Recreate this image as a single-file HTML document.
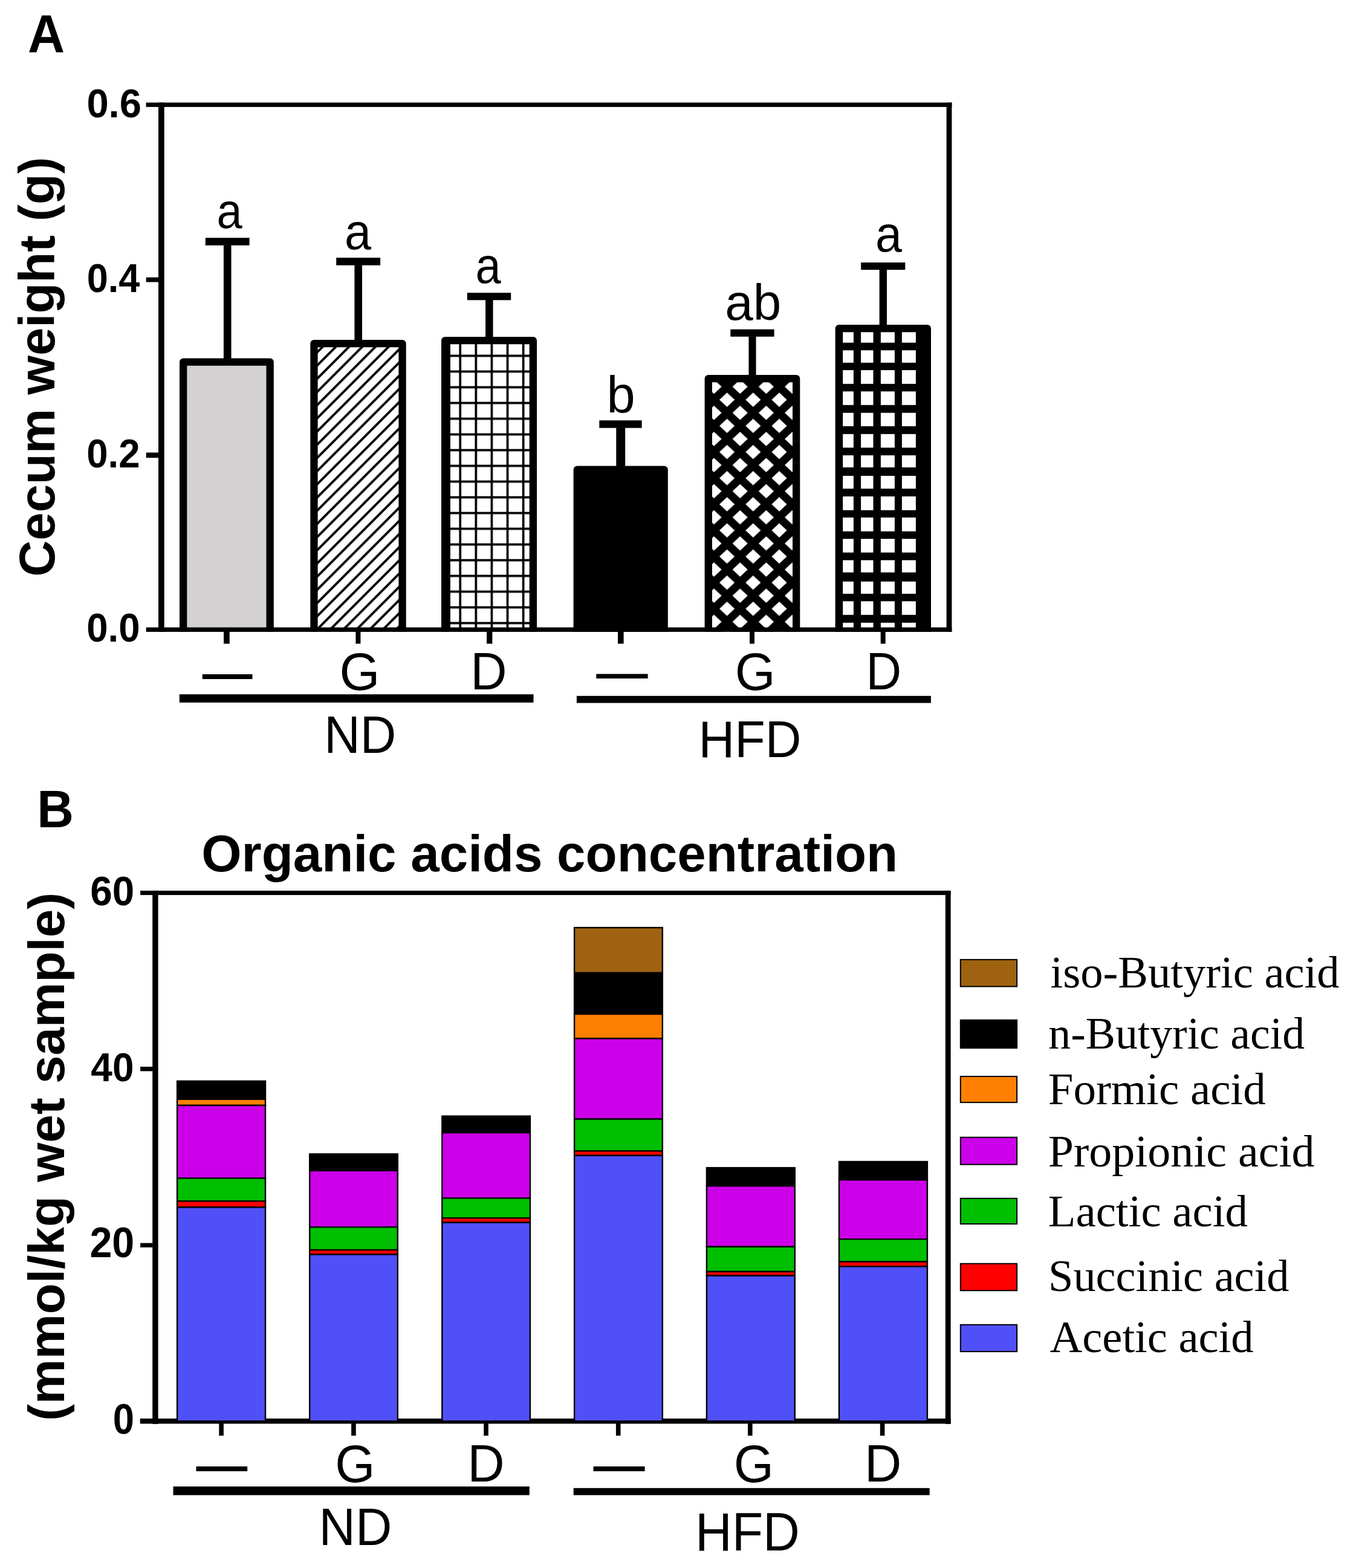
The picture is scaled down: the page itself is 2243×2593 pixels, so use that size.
<!DOCTYPE html>
<html><head><meta charset="utf-8"><title>Cecum weight and organic acids</title>
<style>html,body{margin:0;padding:0;background:#fff;}svg{display:block;}</style></head>
<body>
<svg width="2243" height="2593" viewBox="0 0 2243 2593">
<rect width="2243" height="2593" fill="#fff"/>
<text transform="translate(45.98 86.8) scale(0.9563 1)" font-family='"Liberation Sans", Arial, sans-serif' font-weight="bold" font-size="88.52">A</text>
<text transform="translate(90.35 953.82) rotate(-90) scale(1.0012 1)" font-family='"Liberation Sans", Arial, sans-serif' font-weight="bold" font-size="83.24">Cecum weight (g)</text>
<text transform="translate(143.39 194.02) scale(0.9649 1)" font-family='"Liberation Sans", Arial, sans-serif' font-weight="bold" font-size="67.51">0.6</text>
<text transform="translate(143.68 483.03) scale(0.9358 1)" font-family='"Liberation Sans", Arial, sans-serif' font-weight="bold" font-size="67.37">0.4</text>
<text transform="translate(143.26 772.53) scale(0.9467 1)" font-family='"Liberation Sans", Arial, sans-serif' font-weight="bold" font-size="67.09">0.2</text>
<text transform="translate(143.26 1060.94) scale(0.9595 1)" font-family='"Liberation Sans", Arial, sans-serif' font-weight="bold" font-size="66.24">0.0</text>
<defs>
<pattern id="hatch" patternUnits="userSpaceOnUse" x="16.18" y="0" width="21.82" height="21.82">
 <rect width="21.82" height="21.82" fill="#fff"/>
 <path d="M-10.91,10.91 L10.91,-10.91 M0,21.82 L21.82,0 M10.91,32.730000000000004 L32.730000000000004,10.91" stroke="#000" stroke-width="3.9"/>
</pattern>
<pattern id="fgrid" patternUnits="userSpaceOnUse" x="759.35" y="586.55" width="26.1" height="26">
 <rect width="26.1" height="26" fill="#fff"/>
 <rect width="3.7" height="26" fill="#000"/>
 <rect width="26.1" height="3.7" fill="#000"/>
</pattern>
<pattern id="diam" patternUnits="userSpaceOnUse" x="1224.2" y="682.7" width="43.2" height="43.2">
 <rect width="43.2" height="43.2" fill="#000"/>
 <path fill="#fff" d="M0.00,-11.80 L12.60,0.00 L0.00,11.80 L-12.60,0.00Z M43.20,-11.80 L55.80,0.00 L43.20,11.80 L30.60,0.00Z M0.00,31.40 L12.60,43.20 L0.00,55.00 L-12.60,43.20Z M43.20,31.40 L55.80,43.20 L43.20,55.00 L30.60,43.20Z M21.60,9.80 L34.20,21.60 L21.60,33.40 L9.00,21.60Z"/>
</pattern>
<pattern id="tgrid" patternUnits="userSpaceOnUse" x="1492.2" y="717.9" width="35.2" height="35.2">
 <rect width="35.2" height="35.2" fill="#000"/>
 <rect width="22.7" height="22.7" fill="#fff"/>
</pattern>
</defs>
<path d="M303.15,1044.9 V598.55 H446.65 V1044.9" fill="#d5d2d4" stroke="#000" stroke-width="12.3" stroke-linejoin="round"/>
<path d="M519.45,1044.9 V568.15 H665.55 V1044.9" fill="url(#hatch)" stroke="#000" stroke-width="12.3" stroke-linejoin="round"/>
<path d="M736.15,1044.9 V563.15 H881.85 V1044.9" fill="url(#fgrid)" stroke="#000" stroke-width="12.3" stroke-linejoin="round"/>
<path d="M954.75,1044.9 V776.65 H1098.65 V1044.9" fill="#000" stroke="#000" stroke-width="12.3" stroke-linejoin="round"/>
<path d="M1171.75,1044.9 V626.15 H1317.15 V1044.9" fill="url(#diam)" stroke="#000" stroke-width="12.3" stroke-linejoin="round"/>
<path d="M1387.75,1044.9 V543.15 H1533.85 V1044.9" fill="#000" stroke="#000" stroke-width="12.3" stroke-linejoin="round"/>
<rect x="730" y="563" width="14.9" height="478" fill="#000"/>
<g fill="#fff">
<rect x="1394.2" y="549.3" width="17.7" height="17.4"/>
<rect x="1424.1" y="549.3" width="20.4" height="17.4"/>
<rect x="1456.9" y="549.3" width="23" height="17.4"/>
<rect x="1491.9" y="549.3" width="23" height="17.4"/>
<rect x="1394.2" y="579.3" width="17.7" height="20.5"/>
<rect x="1424.1" y="579.3" width="20.4" height="20.5"/>
<rect x="1456.9" y="579.3" width="23" height="20.5"/>
<rect x="1491.9" y="579.3" width="23" height="20.5"/>
<rect x="1394.2" y="612.1" width="17.7" height="22.7"/>
<rect x="1424.1" y="612.1" width="20.4" height="22.7"/>
<rect x="1456.9" y="612.1" width="23" height="22.7"/>
<rect x="1491.9" y="612.1" width="23" height="22.7"/>
<rect x="1394.2" y="647.3" width="17.7" height="22.5"/>
<rect x="1424.1" y="647.3" width="20.4" height="22.5"/>
<rect x="1456.9" y="647.3" width="23" height="22.5"/>
<rect x="1491.9" y="647.3" width="23" height="22.5"/>
<rect x="1394.2" y="682.7" width="17.7" height="22.1"/>
<rect x="1424.1" y="682.7" width="20.4" height="22.1"/>
<rect x="1456.9" y="682.7" width="23" height="22.1"/>
<rect x="1491.9" y="682.7" width="23" height="22.1"/>
<rect x="1394.2" y="717.8" width="17.7" height="22.5"/>
<rect x="1424.1" y="717.8" width="20.4" height="22.5"/>
<rect x="1456.9" y="717.8" width="23" height="22.5"/>
<rect x="1491.9" y="717.8" width="23" height="22.5"/>
<rect x="1394.2" y="753" width="17.7" height="19.9"/>
<rect x="1424.1" y="753" width="20.4" height="19.9"/>
<rect x="1456.9" y="753" width="23" height="19.9"/>
<rect x="1491.9" y="753" width="23" height="19.9"/>
<rect x="1394.2" y="786.9" width="17.7" height="21.2"/>
<rect x="1424.1" y="786.9" width="20.4" height="21.2"/>
<rect x="1456.9" y="786.9" width="23" height="21.2"/>
<rect x="1491.9" y="786.9" width="23" height="21.2"/>
<rect x="1394.2" y="820.9" width="17.7" height="22.8"/>
<rect x="1424.1" y="820.9" width="20.4" height="22.8"/>
<rect x="1456.9" y="820.9" width="23" height="22.8"/>
<rect x="1491.9" y="820.9" width="23" height="22.8"/>
<rect x="1394.2" y="855.8" width="17.7" height="22.9"/>
<rect x="1424.1" y="855.8" width="20.4" height="22.9"/>
<rect x="1456.9" y="855.8" width="23" height="22.9"/>
<rect x="1491.9" y="855.8" width="23" height="22.9"/>
<rect x="1394.2" y="891.1" width="17.7" height="22.6"/>
<rect x="1424.1" y="891.1" width="20.4" height="22.6"/>
<rect x="1456.9" y="891.1" width="23" height="22.6"/>
<rect x="1491.9" y="891.1" width="23" height="22.6"/>
<rect x="1394.2" y="926.4" width="17.7" height="20.2"/>
<rect x="1424.1" y="926.4" width="20.4" height="20.2"/>
<rect x="1456.9" y="926.4" width="23" height="20.2"/>
<rect x="1491.9" y="926.4" width="23" height="20.2"/>
<rect x="1394.2" y="961.7" width="17.7" height="20.2"/>
<rect x="1424.1" y="961.7" width="20.4" height="20.2"/>
<rect x="1456.9" y="961.7" width="23" height="20.2"/>
<rect x="1491.9" y="961.7" width="23" height="20.2"/>
<rect x="1394.2" y="994.3" width="17.7" height="22.5"/>
<rect x="1424.1" y="994.3" width="20.4" height="22.5"/>
<rect x="1456.9" y="994.3" width="23" height="22.5"/>
<rect x="1491.9" y="994.3" width="23" height="22.5"/>
<rect x="1394.2" y="1029.8" width="17.7" height="11.2"/>
<rect x="1424.1" y="1029.8" width="20.4" height="11.2"/>
<rect x="1456.9" y="1029.8" width="23" height="11.2"/>
<rect x="1491.9" y="1029.8" width="23" height="11.2"/>
</g>
<g fill="#000">
<rect x="339.8" y="393.3" width="72.8" height="12.5"/>
<rect x="369.9" y="405.3" width="12.6" height="188.6"/>
<rect x="556.2" y="426.2" width="72.9" height="12.5"/>
<rect x="586.4" y="438.2" width="12.6" height="125.3"/>
<rect x="772.8" y="484.2" width="72.4" height="12.1"/>
<rect x="803.05" y="495.8" width="12.5" height="62.7"/>
<rect x="991.3" y="695.2" width="70.3" height="12.5"/>
<rect x="1019.25" y="707.2" width="14.9" height="64.8"/>
<rect x="1208.3" y="544.6" width="72.3" height="12.1"/>
<rect x="1238.45" y="556.2" width="12.1" height="65.3"/>
<rect x="1424.2" y="434.1" width="73.1" height="12.1"/>
<rect x="1454.65" y="445.7" width="12.3" height="92.8"/>
</g>
<g fill="#000">
<rect x="241.6" y="169.6" width="1332.8" height="7.3"/>
<rect x="262" y="169.6" width="9.7" height="875.3"/>
<rect x="1565.6" y="169.6" width="8.8" height="875.3"/>
<rect x="241.7" y="1037.5" width="1332.7" height="7.4"/>
<rect x="241.7" y="458.7" width="22" height="7.8"/>
<rect x="241.7" y="748.4" width="22" height="8.6"/>
<rect x="370.05" y="1043" width="9.7" height="21.5"/>
<rect x="588.4" y="1043" width="8" height="21.5"/>
<rect x="805.05" y="1043" width="9.3" height="21.5"/>
<rect x="1022" y="1043" width="9.6" height="21.5"/>
<rect x="1240" y="1043" width="8" height="21.5"/>
<rect x="1456.7" y="1043" width="8" height="21.5"/>
<rect x="296.8" y="1148.2" width="585.7" height="13.6"/>
<rect x="953.9" y="1150.8" width="586" height="11.7"/>
</g>
<text transform="translate(358.42 376.88) scale(0.9278 1)" font-family='"Liberation Sans", Arial, sans-serif' font-weight="normal" font-size="81.57">a</text>
<text transform="translate(569.97 412.08) scale(0.9600 1)" font-family='"Liberation Sans", Arial, sans-serif' font-weight="normal" font-size="82.48">a</text>
<text transform="translate(786.52 468.38) scale(0.9175 1)" font-family='"Liberation Sans", Arial, sans-serif' font-weight="normal" font-size="82.48">a</text>
<text transform="translate(1003.38 681.75) scale(0.9931 1)" font-family='"Liberation Sans", Arial, sans-serif' font-weight="normal" font-size="85.44">b</text>
<text transform="translate(1199.19 528.77) scale(1.0101 1)" font-family='"Liberation Sans", Arial, sans-serif' font-weight="normal" font-size="82.72">ab</text>
<text transform="translate(1448.08 415.68) scale(0.9576 1)" font-family='"Liberation Sans", Arial, sans-serif' font-weight="normal" font-size="82.48">a</text>
<text transform="translate(334.8 1149.7) scale(1 1.4601)" font-family='"Liberation Sans", Arial, sans-serif' font-size="82.8">—</text>
<text transform="translate(986.3 1146.7) scale(1 1.2933)" font-family='"Liberation Sans", Arial, sans-serif' font-size="85.4">—</text>
<text transform="translate(561.6 1141.42) scale(0.9763 1)" font-family='"Liberation Sans", Arial, sans-serif' font-weight="normal" font-size="87.99">G</text>
<text transform="translate(778.36 1140.2) scale(0.9617 1)" font-family='"Liberation Sans", Arial, sans-serif' font-weight="normal" font-size="86.77">D</text>
<text transform="translate(1215.8 1141.42) scale(0.9763 1)" font-family='"Liberation Sans", Arial, sans-serif' font-weight="normal" font-size="87.99">G</text>
<text transform="translate(1432.45 1140.2) scale(0.9344 1)" font-family='"Liberation Sans", Arial, sans-serif' font-weight="normal" font-size="86.77">D</text>
<text transform="translate(536.14 1245.4) scale(0.9498 1)" font-family='"Liberation Sans", Arial, sans-serif' font-weight="normal" font-size="86.77">ND</text>
<text transform="translate(1155.62 1252) scale(0.9654 1)" font-family='"Liberation Sans", Arial, sans-serif' font-weight="normal" font-size="85.61">HFD</text>
<text transform="translate(61.37 1368.4) scale(0.9741 1)" font-family='"Liberation Sans", Arial, sans-serif' font-weight="bold" font-size="86.34">B</text>
<text transform="translate(333.2 1441.43) scale(0.9955 1)" font-family='"Liberation Sans", Arial, sans-serif' font-weight="bold" font-size="85.7">Organic acids concentration</text>
<text transform="translate(105.77 2349.78) rotate(-90) scale(0.9948 1)" font-family='"Liberation Sans", Arial, sans-serif' font-weight="bold" font-size="84.1">(mmol/kg wet sample)</text>
<text transform="translate(149.37 1496.71) scale(0.9552 1)" font-family='"Liberation Sans", Arial, sans-serif' font-weight="bold" font-size="68.64">60</text>
<text transform="translate(150.34 1788.13) scale(0.9608 1)" font-family='"Liberation Sans", Arial, sans-serif' font-weight="bold" font-size="66.53">40</text>
<text transform="translate(148.38 2079) scale(0.9504 1)" font-family='"Liberation Sans", Arial, sans-serif' font-weight="bold" font-size="69.77">20</text>
<text transform="translate(186.77 2370.9) scale(0.9082 1)" font-family='"Liberation Sans", Arial, sans-serif' font-weight="bold" font-size="69.77">0</text>
<g fill="#000">
<rect x="232.1" y="1472.9" width="1340.5" height="7.2"/>
<rect x="252.2" y="1472.9" width="9.4" height="881.9"/>
<rect x="1563.8" y="1472.9" width="8.8" height="881.9"/>
<rect x="231.7" y="2345.8" width="1340.9" height="8.6"/>
<rect x="232.1" y="1764" width="20.5" height="7.4"/>
<rect x="232.1" y="2055.6" width="20.5" height="7.2"/>
<rect x="362.3" y="2352" width="7.6" height="22.2"/>
<rect x="581.1" y="2352" width="7.6" height="22.2"/>
<rect x="800.2" y="2352" width="7.6" height="22.2"/>
<rect x="1018.9" y="2352" width="7.6" height="22.2"/>
<rect x="1237" y="2352" width="7.6" height="22.2"/>
<rect x="1455.8" y="2352" width="7.6" height="22.2"/>
<rect x="286.5" y="2458.2" width="589.3" height="14.3"/>
<rect x="948.7" y="2460.8" width="589" height="11.7"/>
</g>
<text transform="translate(324.5 2459.7) scale(1 1.4273)" font-family='"Liberation Sans", Arial, sans-serif' font-size="84.7">—</text>
<text transform="translate(981.5 2459.7) scale(1 1.4206)" font-family='"Liberation Sans", Arial, sans-serif' font-size="85.1">—</text>
<text transform="translate(554.14 2451.42) scale(0.9676 1)" font-family='"Liberation Sans", Arial, sans-serif' font-weight="normal" font-size="87.99">G</text>
<text transform="translate(773.23 2450.3) scale(0.9775 1)" font-family='"Liberation Sans", Arial, sans-serif' font-weight="normal" font-size="86.92">D</text>
<text transform="translate(1213.84 2451.42) scale(0.9676 1)" font-family='"Liberation Sans", Arial, sans-serif' font-weight="normal" font-size="87.99">G</text>
<text transform="translate(1429.95 2450.3) scale(0.9756 1)" font-family='"Liberation Sans", Arial, sans-serif' font-weight="normal" font-size="86.92">D</text>
<text transform="translate(527.55 2555.4) scale(0.9630 1)" font-family='"Liberation Sans", Arial, sans-serif' font-weight="normal" font-size="86.77">ND</text>
<text transform="translate(1149.89 2563.9) scale(0.9529 1)" font-family='"Liberation Sans", Arial, sans-serif' font-weight="normal" font-size="88.37">HFD</text>
<g stroke="#000" stroke-width="2.4">
<rect x="293.1" y="1787.8" width="145.9" height="30" fill="#000"/>
<rect x="293.1" y="1817.8" width="145.9" height="10.15" fill="#ff8000"/>
<rect x="293.1" y="1827.95" width="145.9" height="120.4" fill="#cc00e8"/>
<rect x="293.1" y="1948.35" width="145.9" height="38" fill="#00bf00"/>
<rect x="293.1" y="1986.35" width="145.9" height="10.1" fill="#ff0000"/>
<rect x="293.1" y="1996.45" width="145.9" height="353.75" fill="#5050f8"/>
<rect x="512.2" y="1908.4" width="145.6" height="27.5" fill="#000"/>
<rect x="512.2" y="1935.9" width="145.6" height="93.3" fill="#cc00e8"/>
<rect x="512.2" y="2029.2" width="145.6" height="37.85" fill="#00bf00"/>
<rect x="512.2" y="2067.05" width="145.6" height="7.45" fill="#ff0000"/>
<rect x="512.2" y="2074.5" width="145.6" height="275.7" fill="#5050f8"/>
<rect x="731.3" y="1845.7" width="145.6" height="27.5" fill="#000"/>
<rect x="731.3" y="1873.2" width="145.6" height="108.15" fill="#cc00e8"/>
<rect x="731.3" y="1981.35" width="145.6" height="32.85" fill="#00bf00"/>
<rect x="731.3" y="2014.2" width="145.6" height="7.5" fill="#ff0000"/>
<rect x="731.3" y="2021.7" width="145.6" height="328.5" fill="#5050f8"/>
<rect x="950.1" y="1534" width="145.7" height="74.9" fill="#9f6210"/>
<rect x="950.1" y="1608.9" width="145.7" height="68.1" fill="#000"/>
<rect x="950.1" y="1677" width="145.7" height="40.4" fill="#ff8000"/>
<rect x="950.1" y="1717.4" width="145.7" height="133.2" fill="#cc00e8"/>
<rect x="950.1" y="1850.6" width="145.7" height="52.8" fill="#00bf00"/>
<rect x="950.1" y="1903.4" width="145.7" height="7.5" fill="#ff0000"/>
<rect x="950.1" y="1910.9" width="145.7" height="439.3" fill="#5050f8"/>
<rect x="1168.9" y="1931.1" width="145.9" height="30.1" fill="#000"/>
<rect x="1168.9" y="1961.2" width="145.9" height="100.55" fill="#cc00e8"/>
<rect x="1168.9" y="2061.75" width="145.9" height="41.15" fill="#00bf00"/>
<rect x="1168.9" y="2102.9" width="145.9" height="6.7" fill="#ff0000"/>
<rect x="1168.9" y="2109.6" width="145.9" height="240.6" fill="#5050f8"/>
<rect x="1388" y="1921" width="145.9" height="30.2" fill="#000"/>
<rect x="1388" y="1951.2" width="145.9" height="98" fill="#cc00e8"/>
<rect x="1388" y="2049.2" width="145.9" height="37.3" fill="#00bf00"/>
<rect x="1388" y="2086.5" width="145.9" height="7.9" fill="#ff0000"/>
<rect x="1388" y="2094.4" width="145.9" height="255.8" fill="#5050f8"/>
</g>
<g stroke="#000" stroke-width="2">
<rect x="1588.8" y="1586.9" width="93.3" height="44.5" fill="#9f6210"/>
<rect x="1588.8" y="1686.8" width="93.3" height="46.4" fill="#000"/>
<rect x="1588.8" y="1780.1" width="93.3" height="43" fill="#ff8000"/>
<rect x="1588.8" y="1880.8" width="93.3" height="44.9" fill="#cc00e8"/>
<rect x="1588.8" y="1981.8" width="93.3" height="42.2" fill="#00bf00"/>
<rect x="1588.8" y="2089.7" width="93.3" height="44.5" fill="#ff0000"/>
<rect x="1588.8" y="2190.7" width="93.3" height="44.4" fill="#5050f8"/>
</g>
<text transform="translate(1737.54 1633.2)" font-family='"Liberation Serif", "Times New Roman", serif' font-weight="normal" font-size="74.5">iso-Butyric acid</text>
<text transform="translate(1734.3 1734.2) scale(0.9896 1)" font-family='"Liberation Serif", "Times New Roman", serif' font-weight="normal" font-size="74.5">n-Butyric acid</text>
<text transform="translate(1733.83 1825.6) scale(1.0055 1)" font-family='"Liberation Serif", "Times New Roman", serif' font-weight="normal" font-size="74.5">Formic acid</text>
<text transform="translate(1733.8 1928.6) scale(1.0192 1)" font-family='"Liberation Serif", "Times New Roman", serif' font-weight="normal" font-size="74.5">Propionic acid</text>
<text transform="translate(1733.83 2027.7) scale(1.0037 1)" font-family='"Liberation Serif", "Times New Roman", serif' font-weight="normal" font-size="74.5">Lactic acid</text>
<text transform="translate(1734.12 2135.2) scale(0.9978 1)" font-family='"Liberation Serif", "Times New Roman", serif' font-weight="normal" font-size="74.5">Succinic acid</text>
<text transform="translate(1736.46 2236.1)" font-family='"Liberation Serif", "Times New Roman", serif' font-weight="normal" font-size="74.5">Acetic acid</text>
</svg>
</body></html>
